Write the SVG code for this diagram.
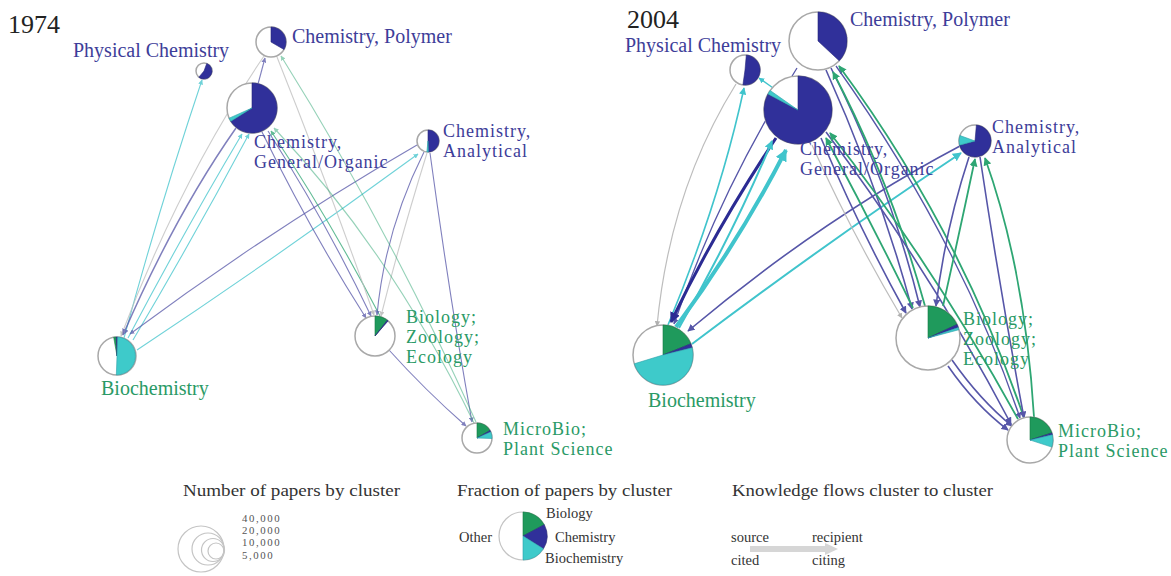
<svg xmlns="http://www.w3.org/2000/svg" width="1171" height="576" viewBox="0 0 1171 576">
  <style>
    text { font-family: "Liberation Serif", "DejaVu Serif", serif; }
    .yr { font-size: 26px; fill: #222; }
    .lb { font-size: 20px; fill: #3d3d99; }
    .lg { font-size: 20px; fill: #2a9a66; }
    .ml { font-size: 18px; letter-spacing: 1px; }
    .ttl { font-size: 17px; fill: #333; }
    .sm { font-size: 14.5px; fill: #333; }
    .num { font-size: 10.8px; fill: #555; letter-spacing: 1.6px; }
    .ring { fill: #fff; stroke: #a8a8a8; stroke-width: 1.5; }
    .bl { fill: #30309a; stroke: #26267a; stroke-width: 0.6; }
    .gr { fill: #1f9a5c; stroke: #157a45; stroke-width: 0.6; }
    .cy { fill: #3ecaca; stroke: #2aa0a8; stroke-width: 0.6; }
    .e { fill: none; }
    .pur { stroke: #5656a8; }
    .nav { stroke: #2b2b93; }
    .cya { stroke: #40c4cc; }
    .grn { stroke: #2ea673; }
    .gry { stroke: #bdbdbd; }
    .y74 .e { stroke-width: 1.1; opacity: 0.75; }
    .y04 .e { stroke-width: 1.6; }
  </style>
  <defs>
    <marker id="a-pur" viewBox="0 0 10 10" refX="9" refY="5" markerWidth="4.5" markerHeight="4.5" orient="auto"><path d="M0,0 L10,5 L0,10 Z" fill="#5656a8"/></marker>
    <marker id="a-nav" viewBox="0 0 10 10" refX="9" refY="5" markerWidth="3.5" markerHeight="3.5" orient="auto"><path d="M0,0 L10,5 L0,10 Z" fill="#2b2b93"/></marker>
    <marker id="a-cya" viewBox="0 0 10 10" refX="9" refY="5" markerWidth="4.5" markerHeight="4.5" orient="auto"><path d="M0,0 L10,5 L0,10 Z" fill="#40c4cc"/></marker>
    <marker id="a-cyt" viewBox="0 0 10 10" refX="9" refY="5" markerWidth="3" markerHeight="3" orient="auto"><path d="M0,0 L10,5 L0,10 Z" fill="#40c4cc"/></marker>
    <marker id="a-grn" viewBox="0 0 10 10" refX="9" refY="5" markerWidth="4.5" markerHeight="4.5" orient="auto"><path d="M0,0 L10,5 L0,10 Z" fill="#2ea673"/></marker>
    <marker id="a-gry" viewBox="0 0 10 10" refX="9" refY="5" markerWidth="4.5" markerHeight="4.5" orient="auto"><path d="M0,0 L10,5 L0,10 Z" fill="#b0b0b0"/></marker>
  </defs>
  <rect width="1171" height="576" fill="#fff"/>

  <!-- 1974 network -->
  <text class="yr" x="8" y="33">1974</text>
  <g id="connectors-1974" class="y74">
    <path class="e cya" d="M124 338 Q160 205 202 80" marker-end="url(#a-cya)"/>
    <path class="e gry" d="M264 56 Q180 180 121 336" marker-end="url(#a-gry)"/>
    <path class="e pur" d="M236 128 Q175 215 123 335" marker-end="url(#a-pur)" style="stroke-width:1.5"/>
    <path class="e cya" d="M128 338 Q185 230 242 134" marker-end="url(#a-cya)"/>
    <path class="e cya" d="M133 340 Q195 235 249 134" marker-end="url(#a-cya)"/>
    <path class="e pur" d="M417 145 Q270 230 130 334" marker-end="url(#a-pur)"/>
    <path class="e cya" d="M137 350 Q280 255 418 154" marker-end="url(#a-cya)"/>
    <path class="e pur" d="M262 132 Q310 230 366 318" marker-end="url(#a-pur)"/>
    <path class="e pur" d="M268 131 Q325 220 371 316" marker-end="url(#a-pur)"/>
    <path class="e grn" d="M380 316 Q330 220 271 131" marker-end="url(#a-grn)"/>
    <path class="e gry" d="M277 57 Q330 190 374 315" marker-end="url(#a-gry)"/>
    <path class="e pur" d="M424 152 Q385 230 377 315" marker-end="url(#a-pur)"/>
    <path class="e gry" d="M427 153 Q400 240 381 316" marker-end="url(#a-gry)"/>
    <path class="e pur" d="M430 153 Q450 300 472 422" marker-end="url(#a-pur)"/>
    <path class="e pur" d="M389 350 Q425 390 466 426" marker-end="url(#a-pur)"/>
    <path class="e grn" d="M474 423 Q390 250 274 128" marker-end="url(#a-grn)" style="opacity:0.5"/>
    <path class="e grn" d="M476 422 Q390 230 281 56" marker-end="url(#a-grn)" style="opacity:0.5"/>
    <path class="e pur" d="M258 84 L265 58" marker-end="url(#a-pur)"/>
  </g>

  <g id="n74-physical-chemistry">
    <circle class="ring" cx="204" cy="71" r="8"/>
    <path class="bl" d="M204 71 L206.74 63.48 A8 8 0 1 1 198.86 77.13 Z"/>
    <text class="lb" x="73" y="57">Physical Chemistry</text>
  </g>
  <g id="n74-chemistry-polymer">
    <circle class="ring" cx="271" cy="42" r="15"/>
    <path class="bl" d="M271 42 L271 27 A15 15 0 0 1 283.99 49.5 Z"/>
    <text class="lb" x="292" y="43">Chemistry, Polymer</text>
  </g>
  <g id="n74-chemistry-general-organic">
    <circle class="ring" cx="252" cy="108" r="25"/>
    <path class="bl" d="M252 108 L252 83 A25 25 0 1 1 230.8 121.25 Z"/>
    <path class="cy" d="M252 108 L230.8 121.25 A25 25 0 0 1 229.15 118.17 Z"/>
    <text class="lb ml" x="254" y="148">Chemistry,<tspan x="254" dy="20">General/Organic</tspan></text>
  </g>
  <g id="n74-chemistry-analytical">
    <circle class="ring" cx="428" cy="141" r="11"/>
    <path class="bl" d="M428 141 L428 130 A11 11 0 0 1 428.38 151.99 Z"/>
    <path class="cy" d="M428 141 L428.38 151.99 A11 11 0 0 1 426.85 151.94 Z"/>
    <text class="lb ml" x="443" y="137">Chemistry,<tspan x="443" dy="20">Analytical</tspan></text>
  </g>
  <g id="n74-biology">
    <circle class="ring" cx="375" cy="336" r="20"/>
    <path class="gr" d="M375 336 L375 316 A20 20 0 0 1 387.3 320.2 Z"/>
    <path class="bl" d="M375 336 L387.3 320.2 A20 20 0 0 1 388.1 320.9 Z"/>
    <text class="lg ml" x="406" y="323">Biology;<tspan x="406" dy="20">Zoology;</tspan><tspan x="406" dy="20">Ecology</tspan></text>
  </g>
  <g id="n74-biochemistry">
    <circle class="ring" cx="117" cy="356" r="19"/>
    <path class="gr" d="M117 356 L113.7 337.3 A19 19 0 0 1 116.34 337.02 Z"/>
    <path class="bl" d="M117 356 L116.34 337.02 A19 19 0 0 1 117.66 337.02 Z"/>
    <path class="cy" d="M117 356 L117.66 337.02 A19 19 0 0 1 116.34 374.98 Z"/>
    <text class="lg" x="101" y="395">Biochemistry</text>
  </g>
  <g id="n74-microbio">
    <circle class="ring" cx="477" cy="438" r="15"/>
    <path class="gr" d="M477 438 L477 423 A15 15 0 0 1 489.99 430.5 Z"/>
    <path class="bl" d="M477 438 L489.99 430.5 A15 15 0 0 1 490.71 431.9 Z"/>
    <path class="cy" d="M477 438 L490.71 431.9 A15 15 0 0 1 491.99 438.52 Z"/>
    <text class="lg ml" x="503" y="435">MicroBio;<tspan x="503" dy="20">Plant Science</tspan></text>
  </g>

  <!-- 2004 network -->
  <text class="yr" x="627" y="28">2004</text>
  <g id="connectors-2004" class="y04">
    <path class="e gry" d="M736 84 Q670 190 657 326" marker-end="url(#a-gry)" style="stroke-width:1.2"/>
    <path class="e cya" d="M668 325 Q720 200 744 88" marker-end="url(#a-cya)"/>
    <path class="e pur" d="M797 68 Q720 190 674 324" marker-end="url(#a-pur)" style="stroke-width:1.3"/>
    <path class="e nav" d="M776 138 Q715 230 671 322" marker-end="url(#a-nav)" style="stroke-width:3"/>
    <path class="e cya" d="M679 328 Q735 230 772 141" marker-end="url(#a-cya)" style="stroke-width:2"/>
    <path class="e cya" d="M676 327 Q740 240 786 150" marker-end="url(#a-cyt)" style="stroke-width:4"/>
    <path class="e pur" d="M960 146 Q820 220 688 331" marker-end="url(#a-pur)"/>
    <path class="e cya" d="M692 344 Q830 240 961 153" marker-end="url(#a-cya)" style="stroke-width:2"/>
    <path class="e cya" d="M776 90 L759 78" marker-end="url(#a-cya)" style="stroke-width:1.3"/>
    <path class="e pur" d="M826 70 Q880 190 912 309" marker-end="url(#a-pur)"/>
    <path class="e pur" d="M831 68 Q890 185 920 307" marker-end="url(#a-pur)"/>
    <path class="e grn" d="M925 306 Q890 180 833 72" marker-end="url(#a-grn)" style="stroke-width:1.8"/>
    <path class="e grn" d="M1024 418 Q960 230 839 66" marker-end="url(#a-grn)" style="stroke-width:1.8"/>
    <path class="e pur" d="M821 138 Q860 230 906 313" marker-end="url(#a-pur)"/>
    <path class="e gry" d="M812 145 Q850 230 902 318" marker-end="url(#a-gry)" style="stroke-width:1.2"/>
    <path class="e grn" d="M913 308 Q870 220 826 138" marker-end="url(#a-grn)" style="stroke-width:1.8"/>
    <path class="e pur" d="M826 132 Q930 270 1011 424" marker-end="url(#a-pur)"/>
    <path class="e grn" d="M1018 419 Q930 260 830 133" marker-end="url(#a-grn)" style="stroke-width:1.8"/>
    <path class="e pur" d="M836 66 Q960 240 1020 418" marker-end="url(#a-pur)" style="stroke-width:1.3"/>
    <path class="e pur" d="M969 157 Q945 230 936 306" marker-end="url(#a-pur)"/>
    <path class="e grn" d="M943 306 Q960 230 975 159" marker-end="url(#a-grn)" style="stroke-width:1.8"/>
    <path class="e pur" d="M980 157 Q1000 290 1024 418" marker-end="url(#a-pur)"/>
    <path class="e grn" d="M1034 417 Q1025 270 985 158" marker-end="url(#a-grn)" style="stroke-width:1.8"/>
    <path class="e pur" d="M952 360 Q980 400 1012 426" marker-end="url(#a-pur)"/>
    <path class="e pur" d="M948 366 Q975 405 1008 430" marker-end="url(#a-pur)"/>
  </g>

  <g id="n04-physical-chemistry">
    <circle class="ring" cx="745" cy="70" r="15"/>
    <path class="bl" d="M745 70 L746.31 55.06 A15 15 0 1 1 742.91 84.85 Z"/>
    <text class="lb" x="625" y="52">Physical Chemistry</text>
  </g>
  <g id="n04-chemistry-polymer">
    <circle class="ring" cx="818" cy="41" r="29"/>
    <path class="bl" d="M818 41 L818 12 A29 29 0 0 1 839.2 60.78 Z"/>
    <text class="lb" x="850" y="26">Chemistry, Polymer</text>
  </g>
  <g id="n04-chemistry-general-organic">
    <circle class="ring" cx="798" cy="110" r="34"/>
    <path class="bl" d="M798 110 L798 76 A34 34 0 1 1 767.98 94.04 Z"/>
    <path class="cy" d="M798 110 L767.98 94.04 A34 34 0 0 1 770.15 90.48 Z"/>
    <text class="lb ml" x="800" y="155">Chemistry,<tspan x="800" dy="20">General/Organic</tspan></text>
  </g>
  <g id="n04-chemistry-analytical">
    <circle class="ring" cx="975" cy="141" r="16"/>
    <path class="bl" d="M975 141 L976.39 125.06 A16 16 0 1 1 959.55 145.14 Z"/>
    <path class="cy" d="M975 141 L959.55 145.14 A16 16 0 0 1 959.96 135.53 Z"/>
    <text class="lb ml" x="992" y="133">Chemistry,<tspan x="992" dy="20">Analytical</tspan></text>
  </g>
  <g id="n04-biology">
    <circle class="ring" cx="928" cy="338" r="32"/>
    <path class="gr" d="M928 338 L928 306 A32 32 0 0 1 957 324.47 Z"/>
    <path class="bl" d="M928 338 L957 324.47 A32 32 0 0 1 958.27 327.57 Z"/>
    <path class="cy" d="M928 338 L958.27 327.57 A32 32 0 0 1 958.91 329.71 Z"/>
    <text class="lg ml" x="963" y="325">Biology;<tspan x="963" dy="20">Zoology;</tspan><tspan x="963" dy="20">Ecology</tspan></text>
  </g>
  <g id="n04-biochemistry">
    <circle class="ring" cx="663" cy="355" r="30"/>
    <path class="gr" d="M663 355 L663 325 A30 30 0 0 1 690.81 343.75 Z"/>
    <path class="bl" d="M663 355 L690.81 343.75 A30 30 0 0 1 692.11 347.74 Z"/>
    <path class="cy" d="M663 355 L692.11 347.74 A30 30 0 0 1 634.31 363.77 Z"/>
    <text class="lg" x="648" y="407">Biochemistry</text>
  </g>
  <g id="n04-microbio">
    <circle class="ring" cx="1030" cy="440" r="23"/>
    <path class="gr" d="M1030 440 L1030 417 A23 23 0 0 1 1051.87 432.89 Z"/>
    <path class="bl" d="M1030 440 L1051.87 432.89 A23 23 0 0 1 1052.4 434.83 Z"/>
    <path class="cy" d="M1030 440 L1052.4 434.83 A23 23 0 0 1 1051.87 447.11 Z"/>
    <text class="lg ml" x="1058" y="437">MicroBio;<tspan x="1058" dy="20">Plant Science</tspan></text>
  </g>

  <!-- legends -->
  <g id="legend-size">
    <text class="ttl" x="183" y="496" textLength="217" lengthAdjust="spacingAndGlyphs">Number of papers by cluster</text>
    <g fill="none" stroke="#c4c4c4" stroke-width="1.2">
      <circle cx="201" cy="549" r="23"/>
      <circle cx="208" cy="549" r="16"/>
      <circle cx="213" cy="550" r="11.5"/>
      <circle cx="216" cy="551" r="8"/>
    </g>
    <text class="num" x="242" y="522">40,000<tspan x="242" dy="12.2">20,000</tspan><tspan x="242" dy="12.2">10,000</tspan><tspan x="242" dy="12.2">5,000</tspan></text>
  </g>
  <g id="legend-fraction">
    <text class="ttl" x="457" y="496" textLength="215" lengthAdjust="spacingAndGlyphs">Fraction of papers by cluster</text>
    <circle cx="523" cy="536" r="24" fill="#fff" stroke="#c4c4c4" stroke-width="1.2"/>
    <path class="gr" d="M523 536 L523 512 A24 24 0 0 1 544.19 524.74 Z"/>
    <path class="bl" d="M523 536 L544.19 524.74 A24 24 0 0 1 543.35 548.72 Z"/>
    <path class="cy" d="M523 536 L543.35 548.72 A24 24 0 0 1 523 560 Z"/>
    <text class="sm" x="546" y="518">Biology</text>
    <text class="sm" x="555" y="542">Chemistry</text>
    <text class="sm" x="545" y="563">Biochemistry</text>
    <text class="sm" x="459" y="542">Other</text>
  </g>
  <g id="legend-flow">
    <text class="ttl" x="732" y="496" textLength="261" lengthAdjust="spacingAndGlyphs">Knowledge flows cluster to cluster</text>
    <path d="M750 549 L826 549" stroke="#d6d6d6" stroke-width="6" fill="none"/>
    <path d="M825 543 L838 549 L825 555 Z" fill="#d6d6d6"/>
    <text class="sm" x="731" y="542">source</text>
    <text class="sm" x="812" y="542">recipient</text>
    <text class="sm" x="731" y="565">cited</text>
    <text class="sm" x="812" y="565">citing</text>
  </g>
</svg>
